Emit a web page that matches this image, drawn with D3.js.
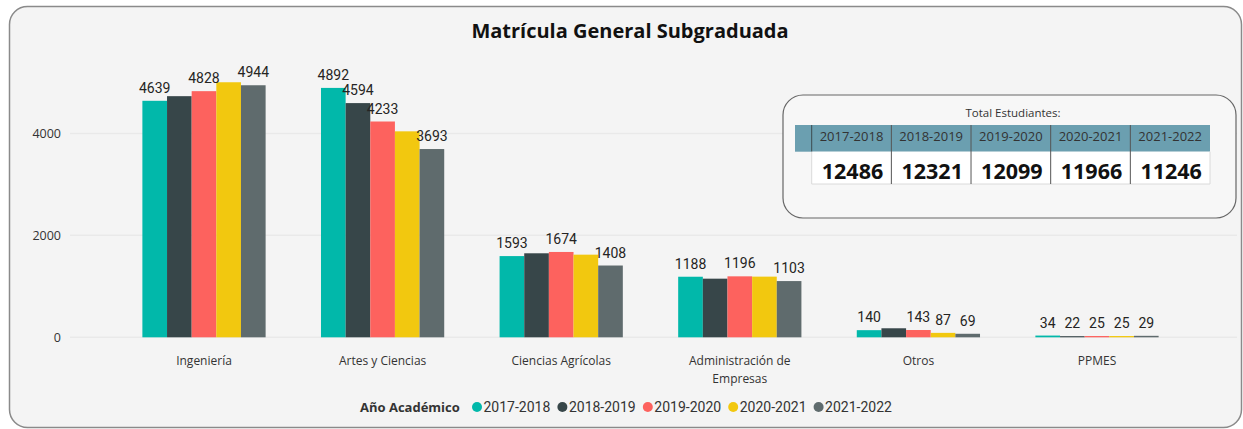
<!DOCTYPE html>
<html>
<head>
<meta charset="utf-8">
<script src="https://cdn.jsdelivr.net/npm/d3@7"></script>
<style>
  body { margin: 0; background: #ffffff; }
  svg { display: block; }
</style>
</head>
<body>
<svg id="chart" width="1243" height="429"></svg>
<script>
// Data
const categories = ["Ingeniería", "Artes y Ciencias", "Ciencias Agrícolas", "Administración de Empresas", "Otros", "PPMES"];
const years = ["2017-2018", "2018-2019", "2019-2020", "2020-2021", "2021-2022"];
const v2017 = [4639, 4892, 1593, 1188, 140, 34];
const v2018 = [4730, 4594, 1648, 1150, 177, 22];
const v2019 = [4828, 4233, 1674, 1196, 143, 25];
const v2020 = [5003, 4040, 1621, 1190, 87, 25];
const v2021 = [4944, 3693, 1408, 1103, 69, 29];
// which data labels are visible (Power BI hides the overlapping ones)
const show2017 = [true, true, true, true, true, true];
const show2018 = [false, true, false, false, false, true];
const show2019 = [true, true, true, true, true, true];
const show2020 = [false, false, false, false, true, true];
const show2021 = [true, true, true, true, true, true];
const totals = [12486, 12321, 12099, 11966, 11246];
const yTicks = [0, 2000, 4000];
const colors = ["#01B8AA", "#374649", "#FD625E", "#F2C80F", "#5F6B6D"];

const series = [v2017, v2018, v2019, v2020, v2021];
const shows = [show2017, show2018, show2019, show2020, show2021];

const svg = d3.select("svg#chart");
const segoe = "'Open Sans', 'Noto Sans', sans-serif";
const din = "Roboto, 'DejaVu Sans', sans-serif";

// card background
svg.append("rect")
  .attr("x", 9.5).attr("y", 6.5)
  .attr("width", 1232).attr("height", 421)
  .attr("rx", 18).attr("ry", 18)
  .attr("fill", "#f4f4f4")
  .attr("stroke", "#8a8a8a")
  .attr("stroke-width", 1.5);

// title
svg.append("text")
  .attr("x", 630).attr("y", 38)
  .attr("text-anchor", "middle")
  .style("font-family", segoe)
  .style("font-weight", "bold")
  .style("font-size", "20px")
  .attr("fill", "#111")
  .text("Matrícula General Subgraduada");

// scales
const x = d3.scaleBand()
  .domain(categories)
  .range([114.7, 1186.3])
  .paddingInner(0.31)
  .paddingOuter(0.155);
const xs = d3.scaleBand()
  .domain(years)
  .range([0, x.bandwidth()]);
const y = d3.scaleLinear()
  .domain([0, 5000])
  .range([337.3, 82.4]);

// gridlines
svg.append("g").selectAll("line").data(yTicks)
  .join("line")
  .attr("x1", 70).attr("x2", 1237)
  .attr("y1", d => y(d)).attr("y2", d => y(d))
  .attr("stroke", "#e9e9e9")
  .attr("stroke-width", 1.5);

// y axis
const yAxis = svg.append("g")
  .attr("transform", "translate(61,0)")
  .call(d3.axisLeft(y).tickValues(yTicks).tickSize(0).tickPadding(0).tickFormat(d3.format("d")));
yAxis.select(".domain").remove();
yAxis.selectAll("text")
  .style("font-family", segoe)
  .style("font-size", "12.5px")
  .attr("fill", "#333");

// bars
const groups = svg.append("g").selectAll("g.cat")
  .data(categories)
  .join("g")
  .attr("class", "cat")
  .attr("transform", d => `translate(${x(d)},0)`);

groups.selectAll("rect")
  .data((c, ci) => years.map((yr, si) => ({ yr, si, v: series[si][ci], show: shows[si][ci] })))
  .join("rect")
  .attr("x", d => xs(d.yr))
  .attr("width", xs.bandwidth())
  .attr("y", d => y(d.v))
  .attr("height", d => y(0) - y(d.v))
  .attr("fill", d => colors[d.si]);

groups.selectAll("text.lbl")
  .data((c, ci) => years.map((yr, si) => ({ yr, si, v: series[si][ci], show: shows[si][ci] })).filter(d => d.show))
  .join("text")
  .attr("class", "lbl")
  .attr("x", d => xs(d.yr) + xs.bandwidth() / 2)
  .attr("y", d => y(d.v) - 8)
  .attr("text-anchor", "middle")
  .style("font-family", din)
  .style("font-size", "14px")
  .attr("fill", "#252423")
  .text(d => d.v);

// x axis labels
const xAxis = svg.append("g")
  .attr("transform", "translate(0,356)")
  .call(d3.axisBottom(x).tickSize(0).tickPadding(0));
xAxis.select(".domain").remove();
xAxis.selectAll("text")
  .style("font-family", segoe)
  .style("font-size", "12px")
  .attr("fill", "#333")
  .call(wrap, 115);

function wrap(texts, width) {
  texts.each(function () {
    const text = d3.select(this);
    const words = text.text().split(/\s+/);
    const dy = parseFloat(text.attr("dy")) || 0;
    let line = [];
    let tspan = text.text(null).append("tspan").attr("x", 0).attr("dy", dy + "em");
    words.forEach(w => {
      line.push(w);
      tspan.text(line.join(" "));
      if (tspan.node().getComputedTextLength() > width && line.length > 1) {
        line.pop();
        tspan.text(line.join(" "));
        line = [w];
        tspan = text.append("tspan").attr("x", 0).attr("dy", "1.5em").text(w);
      }
    });
  });
}

// legend
const legend = svg.append("g").attr("transform", "translate(0,407)");
legend.append("text")
  .attr("x", 360).attr("y", 5)
  .style("font-family", segoe)
  .style("font-weight", "bold")
  .style("font-size", "13px")
  .attr("fill", "#333")
  .text("Año Académico");
const items = legend.selectAll("g.item").data(years)
  .join("g")
  .attr("class", "item")
  .attr("transform", (d, i) => `translate(${477 + i * 85.4},0)`);
items.append("circle")
  .attr("r", 5)
  .attr("fill", (d, i) => colors[i]);
items.append("text")
  .attr("x", 6.5).attr("y", 5.2)
  .style("font-family", din)
  .style("font-size", "14px")
  .attr("fill", "#333")
  .text(d => d);

// totals table card
const tbl = svg.append("g");
tbl.append("rect")
  .attr("x", 783).attr("y", 95)
  .attr("width", 453).attr("height", 123)
  .attr("rx", 20).attr("ry", 20)
  .attr("fill", "#f7f7f7")
  .attr("stroke", "#666")
  .attr("stroke-width", 1.2);
tbl.append("text")
  .attr("x", 1013).attr("y", 117)
  .attr("text-anchor", "middle")
  .style("font-family", segoe)
  .style("font-size", "11.5px")
  .attr("fill", "#333")
  .text("Total Estudiantes:");

const col = d3.scaleBand().domain(years).range([811.7, 1210]);
const headTop = 125, headBot = 151.7, bodyBot = 184;
tbl.append("rect")
  .attr("x", 795).attr("y", headTop)
  .attr("width", 1210 - 795).attr("height", headBot - headTop)
  .attr("fill", "#6B9FB0");
tbl.append("rect")
  .attr("x", 811.7).attr("y", headBot)
  .attr("width", 1210 - 811.7).attr("height", bodyBot - headBot)
  .attr("fill", "#ffffff");
tbl.append("line")
  .attr("x1", 811.7).attr("x2", 1210)
  .attr("y1", bodyBot).attr("y2", bodyBot)
  .attr("stroke", "#dadada");
tbl.append("line")
  .attr("x1", 811.7).attr("x2", 811.7)
  .attr("y1", headTop).attr("y2", headBot)
  .attr("stroke", "#3d4a4f");
tbl.append("line")
  .attr("x1", 811.7).attr("x2", 811.7)
  .attr("y1", headBot).attr("y2", bodyBot)
  .attr("stroke", "#dadada");
tbl.append("line")
  .attr("x1", 1210).attr("x2", 1210)
  .attr("y1", headBot).attr("y2", bodyBot)
  .attr("stroke", "#dadada");
tbl.selectAll("line.sep").data(years.slice(1))
  .join("line")
  .attr("class", "sep")
  .attr("x1", d => col(d)).attr("x2", d => col(d))
  .attr("y1", headTop).attr("y2", bodyBot)
  .attr("stroke", "#555");
tbl.selectAll("text.head").data(years)
  .join("text")
  .attr("class", "head")
  .attr("x", d => col(d) + col.bandwidth() / 2)
  .attr("y", 141)
  .attr("text-anchor", "middle")
  .style("font-family", segoe)
  .style("font-size", "13px")
  .attr("fill", "#333")
  .text(d => d);
tbl.selectAll("text.tot").data(totals)
  .join("text")
  .attr("class", "tot")
  .attr("x", (d, i) => col(years[i]) + col.bandwidth() / 2 + 1)
  .attr("y", 178.5)
  .attr("text-anchor", "middle")
  .style("font-family", segoe)
  .style("font-weight", "bold")
  .style("font-size", "21.5px")
  .attr("fill", "#111")
  .text(d => d);
</script>
</body>
</html>
